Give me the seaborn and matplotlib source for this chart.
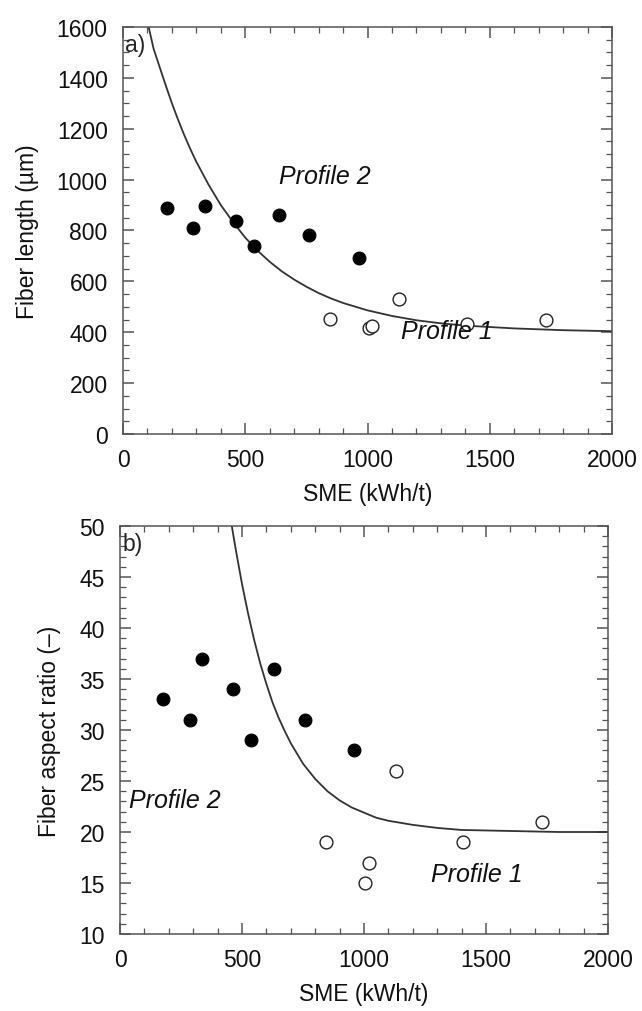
import matplotlib
matplotlib.use("Agg")
import matplotlib.pyplot as plt
import seaborn as sns
import pandas as pd
from matplotlib.ticker import MultipleLocator

sns.set_theme(style="ticks")
plt.rcParams['font.family'] = ['Liberation Sans', 'DejaVu Sans']

# ---- Data: panel a) fiber length ----
a_p2_sme = [180, 285, 335, 462, 535, 640, 760, 965]
a_p2_len = [890, 810, 895, 838, 740, 862, 782, 693]
a_p1_sme = [845, 1005, 1020, 1130, 1405, 1730]
a_p1_len = [453, 415, 425, 530, 433, 450]
a_curve_sme = [105, 125, 150, 175, 200, 225, 250, 275, 300, 350, 400, 450, 500, 550, 600,
               650, 700, 750, 800, 850, 900, 1000, 1100, 1200, 1300, 1400, 1600, 1800, 2000]
a_curve_len = [1600, 1515, 1442, 1370, 1300, 1236, 1176, 1121, 1070, 980, 900, 833, 772,
               721, 677, 639, 607, 579, 554, 533, 515, 486, 464, 447, 435, 426, 415, 408, 404]

# ---- Data: panel b) aspect ratio ----
b_p2_sme = [175, 285, 335, 462, 535, 630, 760, 960]
b_p2_ar = [33, 31, 37, 34, 29, 36, 31, 28]
b_p1_sme = [845, 1005, 1020, 1130, 1405, 1730]
b_p1_ar = [19, 15, 17, 26, 19, 21]
b_curve_sme = [458, 475, 500, 525, 550, 575, 600, 625, 650, 675, 700, 750, 800, 850, 900,
               950, 1000, 1050, 1100, 1200, 1300, 1400, 1600, 1800, 2000]
b_curve_ar = [50, 47.6, 44.3, 41.4, 38.8, 36.5, 34.5, 32.7, 31.2, 29.9, 28.7, 26.7, 25.2,
              24.0, 23.1, 22.4, 21.9, 21.4, 21.1, 20.7, 20.4, 20.2, 20.1, 20.0, 20.0]

fig = plt.figure(figsize=(6.42, 10.12), dpi=100)
ax1 = fig.add_axes([0.1916, 0.5702, 0.9533 - 0.1916, 0.9723 - 0.5702])
ax2 = fig.add_axes([0.187, 0.0761, 0.947 - 0.187, 0.4792 - 0.0761])

FS = 16.5
LFS = 16.5
PFS = 18
AX_COL = '#555555'

def style(ax):
    for s in ax.spines.values():
        s.set_linewidth(1.1)
        s.set_color(AX_COL)
    ax.tick_params(which='both', direction='in', top=True, right=True,
                   labelsize=FS, color=AX_COL, labelcolor='#111111')
    ax.tick_params(which='major', length=8, width=1.1)
    ax.tick_params(which='minor', length=4.5, width=0.9)
    ax.tick_params(axis='x', which='major', pad=10)
    ax.tick_params(axis='y', which='major', pad=11)
    ax.xaxis.set_major_locator(MultipleLocator(500))
    ax.xaxis.set_minor_locator(MultipleLocator(100))

def panel(ax, p2x, p2y, p1x, p1y, cx, cy):
    sns.scatterplot(x=p2x, y=p2y, ax=ax, color='black', s=85, edgecolor='black',
                    linewidth=0.8, zorder=3)
    sns.scatterplot(x=p1x, y=p1y, ax=ax, facecolor='white', s=85, edgecolor='#222222',
                    linewidth=1.0, zorder=3)
    df = pd.DataFrame({'x': cx, 'y': cy})
    sns.lineplot(data=df, x='x', y='y', ax=ax, sort=False, estimator=None,
                 color='#333333', linewidth=1.3, zorder=2)

panel(ax1, a_p2_sme, a_p2_len, a_p1_sme, a_p1_len, a_curve_sme, a_curve_len)
ax1.set_xlim(0, 2000)
ax1.set_ylim(0, 1600)
style(ax1)
ax1.yaxis.set_major_locator(MultipleLocator(200))
ax1.yaxis.set_minor_locator(MultipleLocator(50))
ax1.set_xlabel('SME (kWh/t)', fontsize=LFS, labelpad=8, color='#111111')
ax1.set_ylabel('Fiber length (\u00b5m)', fontsize=LFS, labelpad=13, color='#111111')
ax1.text(0.005, 0.985, 'a)', transform=ax1.transAxes, fontsize=FS, va='top', ha='left')
ax1.text(826, 1014, 'Profile 2', fontsize=PFS, style='italic', ha='center', va='center',
         color='#111111')
ax1.text(1325, 405, 'Profile 1', fontsize=PFS, style='italic', ha='center', va='center',
         color='#111111')

panel(ax2, b_p2_sme, b_p2_ar, b_p1_sme, b_p1_ar, b_curve_sme, b_curve_ar)
ax2.set_xlim(0, 2000)
ax2.set_ylim(10, 50)
style(ax2)
ax2.yaxis.set_major_locator(MultipleLocator(5))
ax2.yaxis.set_minor_locator(MultipleLocator(1))
ax2.set_xlabel('SME (kWh/t)', fontsize=LFS, labelpad=8, color='#111111')
ax2.set_ylabel('Fiber aspect ratio (\u2013)', fontsize=LFS, labelpad=13, color='#111111')
ax2.text(0.005, 0.985, 'b)', transform=ax2.transAxes, fontsize=FS, va='top', ha='left')
ax2.text(225, 23.1, 'Profile 2', fontsize=PFS, style='italic', ha='center', va='center',
         color='#111111')
ax2.text(1461, 15.9, 'Profile 1', fontsize=PFS, style='italic', ha='center', va='center',
         color='#111111')

fig.savefig('out.png', dpi=100)
